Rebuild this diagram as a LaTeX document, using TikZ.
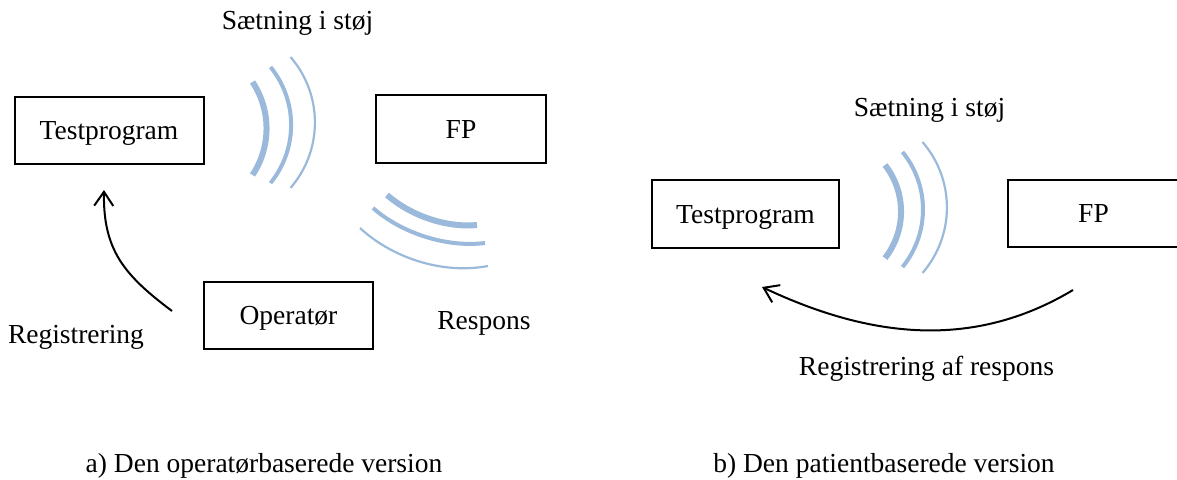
\documentclass[tikz,border=0pt]{standalone}
\usepackage{fontspec}
\setmainfont{Liberation Serif}
\usetikzlibrary{arrows.meta}
\definecolor{wave}{RGB}{155,185,218}
\begin{document}
\begin{tikzpicture}[x=1pt,y=-1pt,
  every node/.style={font=\fontsize{27.5}{33}\selectfont},
  box/.style={draw,line width=2pt,rectangle,inner sep=0pt,text height=18pt,text depth=0pt},
  lbl/.style={inner sep=0pt,anchor=base},
  w1/.style={draw=wave,line width=6pt},
  w2/.style={draw=wave,line width=4pt},
  w3/.style={draw=wave,line width=2.2pt},
  arr/.style={draw=black,line width=2pt,-{Straight Barb[length=14pt,width=19pt]}}]
\useasboundingbox (0,0) rectangle (1177,479);
% ---------- a) ----------
\node[box,minimum width=189pt,minimum height=67pt] (tp1) at (109,130.5) {Testprogram};
\node[box,minimum width=170pt,minimum height=68pt] (fp1) at (461,129) {FP};
\node[box,minimum width=169pt,minimum height=67pt] (op) at (288.5,315.5) {Operatør};
\node[lbl] (s1) at (297.5,29) {Sætning i støj};
\node[lbl] (resp) at (484,329) {Respons};
\node[lbl] (reg1) at (76,343) {Registrering};
\node[lbl] (capa) at (264,472) {a) Den operatørbaserede version};
% waves towards FP
\draw[w1] (252.5,82) arc[start angle=33.6,end angle=-33.6,radius=84pt];
\draw[w2] (270.5,67) arc[start angle=39.1,end angle=-39.1,radius=92pt];
\draw[w3] (290.5,57) arc[start angle=40.9,end angle=-40.9,radius=100pt];
% waves of response
\draw[w1] (387,195) .. controls (410,215) and (445,228) .. (477,225);
\draw[w2] (373,208) .. controls (400,232) and (445,248) .. (485,243);
\draw[w3] (360,228) .. controls (390,256) and (440,275) .. (488,266);
% registration arrow
\coordinate (a1s) at (172,311);
\coordinate (a1e) at (104,190);
\draw[arr] (a1s) .. controls (124,275) and (103,250) .. (a1e);
% ---------- b) ----------
\node[box,minimum width=187pt,minimum height=68pt] (tp2) at (745.5,214) {Testprogram};
\node[box,minimum width=171pt,minimum height=67pt] (fp2) at (1093.5,213.5) {FP};
\node[lbl] (s2) at (929.5,116) {Sætning i støj};
\node[lbl] (reg2) at (926.5,375) {Registrering af respons};
\node[lbl] (capb) at (884,472) {b) Den patientbaserede version};
\draw[w1] (885,165) arc[start angle=38,end angle=-38,radius=75.6pt];
\draw[w2] (902.5,152) arc[start angle=39.2,end angle=-39.2,radius=91pt];
\draw[w3] (922.5,142) arc[start angle=40.9,end angle=-40.9,radius=100pt];
\coordinate (a2s) at (1073,290);
\coordinate (a2e) at (762,287);
\draw[arr] (a2s) .. controls (973,350) and (870,338) .. (a2e);
\end{tikzpicture}
\end{document}
